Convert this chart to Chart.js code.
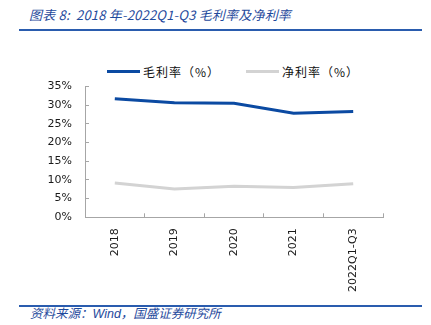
<!DOCTYPE html>
<html>
<head>
<meta charset="utf-8">
<script src="https://cdn.jsdelivr.net/npm/chart.js@4/dist/chart.umd.min.js"></script>
<style>
  html, body { margin: 0; padding: 0; background: #fff; }
  body { width: 431px; height: 325px; position: relative; overflow: hidden; font-family: "Noto Sans CJK SC", sans-serif; }
  #title { position: absolute; left: 29px; top: 5px; font-size: 13px; font-style: italic; color: #1f4a9c; white-space: nowrap; line-height: 20px; letter-spacing: 0.2px; font-family: "Noto Sans CJK SC", sans-serif; }
  #topline { position: absolute; left: 19px; width: 403px; top: 29px; height: 2px; background: #2a5cae; }
  #botline { position: absolute; left: 19px; width: 403px; top: 305px; height: 2px; background: #2a5cae; }
  #source { position: absolute; left: 30px; top: 306px; font-size: 12.5px; font-style: italic; color: #1f4a9c; white-space: nowrap; line-height: 16px; font-family: "Liberation Sans", "Noto Sans CJK SC", sans-serif; }
  #legend { position: absolute; top: 63px; left: 0; height: 18px; }
  .item { position: absolute; top: 0; height: 18px; white-space: nowrap; font-size: 12px; line-height: 18px; color: #111; letter-spacing: 1px; }
  .swatch { position: absolute; top: 7px; left: 0; width: 33px; height: 3px; }
  .lbl { position: absolute; left: 36px; top: 0; }
  #wrap { position: absolute; left: 0; top: 70px; width: 431px; height: 230px; }
</style>
</head>
<body>
<div id="title">图表 8:&nbsp; 2018 年-2022Q1-Q3 毛利率及净利率</div>
<div id="topline"></div>
<div id="legend"></div>
<div id="wrap"><canvas id="c" width="431" height="230"></canvas></div>
<div id="botline"></div>
<div id="source">资料来源：Wind，国盛证券研究所</div>
<script>
const categories = ["2018", "2019", "2020", "2021", "2022Q1-Q3"];
const grossMargin = [31.7, 30.6, 30.5, 27.8, 28.3];
const netMargin = [9.2, 7.6, 8.3, 8.0, 9.0];
const seriesNames = ["毛利率（%）", "净利率（%）"];
const seriesColors = ["#0b4aa2", "#d3d3d3"];
const yTicks = [0, 5, 10, 15, 20, 25, 30, 35];

const legendPos = [107, 246];
const legend = document.getElementById('legend');
seriesNames.forEach((n, i) => {
  const it = document.createElement('div');
  it.className = 'item';
  it.style.left = legendPos[i] + 'px';
  const sw = document.createElement('div');
  sw.className = 'swatch';
  sw.style.background = seriesColors[i];
  const t = document.createElement('span');
  t.className = 'lbl';
  t.textContent = n;
  it.appendChild(sw); it.appendChild(t);
  legend.appendChild(it);
});

const axisColor = '#a6a6a6';
new Chart(document.getElementById('c'), {
  type: 'line',
  data: {
    labels: categories,
    datasets: [
      { label: seriesNames[0], data: grossMargin, borderColor: seriesColors[0], backgroundColor: seriesColors[0], borderWidth: 3, pointRadius: 0, tension: 0 },
      { label: seriesNames[1], data: netMargin, borderColor: seriesColors[1], backgroundColor: seriesColors[1], borderWidth: 3, pointRadius: 0, tension: 0 }
    ]
  },
  options: {
    responsive: false,
    animation: false,
    layout: { padding: { left: 0, right: 48, top: 16.4, bottom: 0 } },
    plugins: { legend: { display: false }, tooltip: { enabled: false } },
    scales: {
      x: {
        type: 'category',
        offset: true,
        grid: { display: true, offset: true, drawOnChartArea: false, drawTicks: true, tickLength: -4, color: axisColor, lineWidth: 1 },
        border: { display: true, color: axisColor, width: 1 },
        ticks: { color: '#1a1a1a', font: { family: 'DejaVu Sans', size: 11 }, maxRotation: 90, minRotation: 90, padding: 15, autoSkip: false },
        afterFit: s => { s.height = 82.7; s.paddingLeft = 0; s.paddingRight = 0; }
      },
      y: {
        min: 0, max: 35,
        afterBuildTicks: s => { s.ticks = yTicks.map(v => ({ value: v })); },
        grid: { display: true, drawOnChartArea: false, drawTicks: true, tickLength: -4, color: axisColor, lineWidth: 1 },
        border: { display: true, color: axisColor, width: 1 },
        ticks: { color: '#1a1a1a', font: { family: 'DejaVu Sans', size: 11 }, padding: 17, callback: v => v + '%' },
        afterFit: s => { s.width = 85; s.paddingTop = 0; s.paddingBottom = 0; }
      }
    }
  }
});
</script>
</body>
</html>
